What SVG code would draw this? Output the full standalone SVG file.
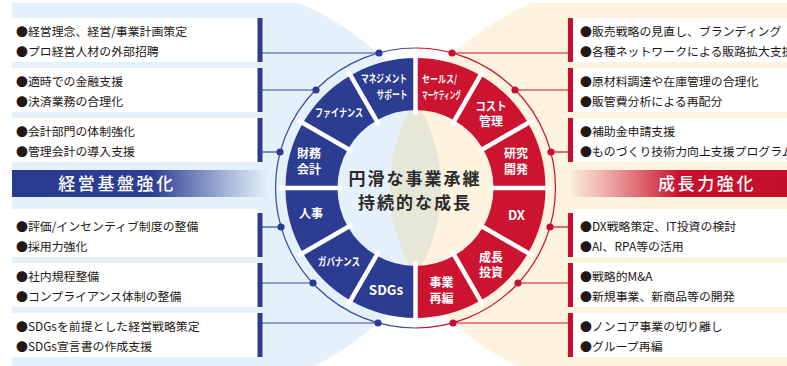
<svg xmlns="http://www.w3.org/2000/svg" xmlns:xlink="http://www.w3.org/1999/xlink" width="787" height="366" viewBox="0 0 787 366">
<defs>
<style>
.box{fill:#ffffff}
.bb{fill:#2c3b8f}
.rb{fill:#c8102e}
.bl{stroke:#3a4a9a;stroke-width:1.2;fill:none}
.rl{stroke:#c8102e;stroke-width:1.2;fill:none}
.bd{fill:#2c3b8f}
.rd{fill:#c8102e}
.t{font-family:"Noto Sans CJK JP","Noto Sans",sans-serif;font-size:11.9px;fill:#231815}
.lbl{font-family:"Noto Sans CJK JP","Noto Sans",sans-serif;font-weight:700;fill:#ffffff;text-anchor:middle}
.band{font-family:"Noto Sans CJK JP","Noto Sans",sans-serif;font-weight:500;font-size:17px;letter-spacing:2.6px;fill:#ffffff;text-anchor:middle}
.ctr{font-family:"Noto Sans CJK JP","Noto Sans",sans-serif;font-weight:700;font-size:17px;letter-spacing:2px;fill:#2a2a2a;text-anchor:middle}
.segB{fill:#2c3c91}
.segR{fill:#cc1430}
</style>
<clipPath id="clipPanel"><rect x="12" y="3" width="775" height="363"/></clipPath>
<clipPath id="clipL"><ellipse cx="160" cy="188" rx="281" ry="213"/></clipPath>
<linearGradient id="gB" gradientUnits="userSpaceOnUse" x1="12" y1="0" x2="268" y2="0">
<stop offset="0" stop-color="#2a3a8f" stop-opacity="1"/>
<stop offset="0.55" stop-color="#2e3e94" stop-opacity="1"/>
<stop offset="1" stop-color="#3a4c9e" stop-opacity="0"/>
</linearGradient>
<linearGradient id="gR" gradientUnits="userSpaceOnUse" x1="572" y1="0" x2="787" y2="0">
<stop offset="0" stop-color="#d83048" stop-opacity="0.05"/>
<stop offset="0.5" stop-color="#c8102e" stop-opacity="1"/>
<stop offset="1" stop-color="#c40f2c" stop-opacity="1"/>
</linearGradient>
<path id="seg" d="M415.5,58 A130,130 0 0 1 480.5,75.42 L454.5,120.45 A78,78 0 0 0 415.5,110 Z"/>
<line id="gap" x1="415.5" y1="115" x2="415.5" y2="52" stroke="#ffffff" stroke-width="4.5"/>
</defs>

<g id="background" clip-path="url(#clipPanel)">
<rect x="12" y="3" width="150" height="363" fill="#e4f1fb"/>
<ellipse cx="160" cy="188" rx="281" ry="213" fill="#e4f1fb"/>
<rect x="671" y="3" width="116" height="363" fill="#fdf3df"/>
<ellipse cx="671" cy="188" rx="281" ry="213" fill="#fdf3df"/>
<ellipse cx="671" cy="188" rx="281" ry="213" fill="#e6e7d7" clip-path="url(#clipL)"/>
</g>

<g id="band-left">
<rect x="12" y="170" width="258" height="27" fill="url(#gB)"/>
<text class="band" x="117" y="190">経営基盤強化</text>
</g>
<g id="band-right">
<rect x="572" y="170" width="215" height="27" fill="url(#gR)"/>
<text class="band" x="707" y="190">成長力強化</text>
</g>

<g id="box-l1"><rect class="box" x="12" y="18" width="246" height="44"/><rect class="bb" x="257.5" y="18" width="5" height="44"/>
<text class="t" x="16" y="36">●経営理念、経営/事業計画策定</text><text class="t" x="16" y="56">●プロ経営人材の外部招聘</text></g>
<g id="box-l2"><rect class="box" x="12" y="68" width="246" height="44"/><rect class="bb" x="257.5" y="68" width="5" height="44"/>
<text class="t" x="16" y="86">●適時での金融支援</text><text class="t" x="16" y="106">●決済業務の合理化</text></g>
<g id="box-l3"><rect class="box" x="12" y="118" width="246" height="44"/><rect class="bb" x="257.5" y="118" width="5" height="44"/>
<text class="t" x="16" y="136">●会計部門の体制強化</text><text class="t" x="16" y="156">●管理会計の導入支援</text></g>
<g id="box-l4"><rect class="box" x="12" y="209" width="246" height="48"/><rect class="bb" x="257.5" y="213" width="5" height="44"/>
<text class="t" x="16" y="231">●評価/インセンティブ制度の整備</text><text class="t" x="16" y="251">●採用力強化</text></g>
<g id="box-l5"><rect class="box" x="12" y="263" width="246" height="44"/><rect class="bb" x="257.5" y="263" width="5" height="44"/>
<text class="t" x="16" y="281">●社内規程整備</text><text class="t" x="16" y="301">●コンプライアンス体制の整備</text></g>
<g id="box-l6"><rect class="box" x="12" y="313" width="246" height="44"/><rect class="bb" x="257.5" y="313" width="5" height="44"/>
<text class="t" x="16" y="331">●SDGsを前提とした経営戦略策定</text><text class="t" x="16" y="351">●SDGs宣言書の作成支援</text></g>

<g id="box-r1"><rect class="box" x="573" y="18" width="214" height="44"/><rect class="rb" x="568" y="18" width="5" height="44"/>
<text class="t" x="580" y="36">●販売戦略の見直し、ブランディング</text><text class="t" x="580" y="56">●各種ネットワークによる販路拡大支援</text></g>
<g id="box-r2"><rect class="box" x="573" y="68" width="214" height="44"/><rect class="rb" x="568" y="68" width="5" height="44"/>
<text class="t" x="580" y="86">●原材料調達や在庫管理の合理化</text><text class="t" x="580" y="106">●販管費分析による再配分</text></g>
<g id="box-r3"><rect class="box" x="573" y="118" width="214" height="44"/><rect class="rb" x="568" y="118" width="5" height="44"/>
<text class="t" x="580" y="136">●補助金申請支援</text><text class="t" x="580" y="156">●ものづくり技術力向上支援プログラム</text></g>
<g id="box-r4"><rect class="box" x="573" y="209" width="214" height="48"/><rect class="rb" x="568" y="213" width="5" height="44"/>
<text class="t" x="580" y="231">●DX戦略策定、IT投資の検討</text><text class="t" x="580" y="251">●AI、RPA等の活用</text></g>
<g id="box-r5"><rect class="box" x="573" y="263" width="214" height="44"/><rect class="rb" x="568" y="263" width="5" height="44"/>
<text class="t" x="580" y="281">●戦略的M&amp;A</text><text class="t" x="580" y="301">●新規事業、新商品等の開発</text></g>
<g id="box-r6"><rect class="box" x="573" y="313" width="214" height="44"/><rect class="rb" x="568" y="313" width="5" height="44"/>
<text class="t" x="580" y="331">●ノンコア事業の切り離し</text><text class="t" x="580" y="351">●グループ再編</text></g>

<g id="ring">
<path d="M415.5,48 A140,140 0 0 0 415.5,328" class="bl" stroke-width="1.5"/>
<path d="M415.5,48 A140,140 0 0 1 415.5,328" class="rl" stroke-width="1.5"/>
</g>

<g id="seg-management"><use xlink:href="#seg" href="#seg" class="segB" transform="rotate(-30 415.5 188)"/>
<text class="lbl" font-size="11" x="384" y="83" textLength="46" lengthAdjust="spacingAndGlyphs">マネジメント</text>
<text class="lbl" font-size="11" x="392" y="98.5" textLength="31" lengthAdjust="spacingAndGlyphs">サポート</text></g>
<g id="seg-finance"><use xlink:href="#seg" href="#seg" class="segB" transform="rotate(-60 415.5 188)"/>
<text class="lbl" font-size="11" x="339" y="117" textLength="48" lengthAdjust="spacingAndGlyphs">ファイナンス</text></g>
<g id="seg-accounting"><use xlink:href="#seg" href="#seg" class="segB" transform="rotate(-90 415.5 188)"/>
<text class="lbl" font-size="12" x="309" y="158">財務</text><text class="lbl" font-size="12" x="309" y="173.5">会計</text></g>
<g id="seg-hr"><use xlink:href="#seg" href="#seg" class="segB" transform="rotate(-120 415.5 188)"/>
<text class="lbl" font-size="12" x="311" y="217.5">人事</text></g>
<g id="seg-governance"><use xlink:href="#seg" href="#seg" class="segB" transform="rotate(-150 415.5 188)"/>
<text class="lbl" font-size="11" x="339" y="266" textLength="42" lengthAdjust="spacingAndGlyphs">ガバナンス</text></g>
<g id="seg-sdgs"><use xlink:href="#seg" href="#seg" class="segB" transform="rotate(-180 415.5 188)"/>
<text class="lbl" font-size="13.5" font-family="'Noto Sans','Noto Sans CJK JP',sans-serif" font-weight="500" x="386" y="294.5">SDGs</text></g>

<g id="seg-sales"><use xlink:href="#seg" href="#seg" class="segR"/>
<text class="lbl" font-size="10.5" x="422" y="83" style="text-anchor:start" textLength="35" lengthAdjust="spacingAndGlyphs">セールス/</text>
<text class="lbl" font-size="10" x="422" y="98.5" style="text-anchor:start" textLength="39" lengthAdjust="spacingAndGlyphs">マーケティング</text></g>
<g id="seg-cost"><use xlink:href="#seg" href="#seg" class="segR" transform="rotate(30 415.5 188)"/>
<text class="lbl" font-size="12" x="491" y="110.5" textLength="31" lengthAdjust="spacingAndGlyphs">コスト</text>
<text class="lbl" font-size="12" x="491" y="126">管理</text></g>
<g id="seg-rd"><use xlink:href="#seg" href="#seg" class="segR" transform="rotate(60 415.5 188)"/>
<text class="lbl" font-size="12" x="516" y="158">研究</text><text class="lbl" font-size="12" x="516" y="173.5">開発</text></g>
<g id="seg-dx"><use xlink:href="#seg" href="#seg" class="segR" transform="rotate(90 415.5 188)"/>
<text class="lbl" font-size="13" font-family="'Noto Sans','Noto Sans CJK JP',sans-serif" font-weight="500" x="516.5" y="219.5">DX</text></g>
<g id="seg-growth"><use xlink:href="#seg" href="#seg" class="segR" transform="rotate(120 415.5 188)"/>
<text class="lbl" font-size="12" x="491" y="261.5">成長</text><text class="lbl" font-size="12" x="491" y="277">投資</text></g>
<g id="seg-restructure"><use xlink:href="#seg" href="#seg" class="segR" transform="rotate(150 415.5 188)"/>
<text class="lbl" font-size="12" x="441.5" y="286.5">事業</text><text class="lbl" font-size="12" x="441.5" y="302.5">再編</text></g>

<g id="gaps">
<use xlink:href="#gap" href="#gap"/>
<use xlink:href="#gap" href="#gap" transform="rotate(30 415.5 188)"/>
<use xlink:href="#gap" href="#gap" transform="rotate(60 415.5 188)"/>
<use xlink:href="#gap" href="#gap" transform="rotate(90 415.5 188)"/>
<use xlink:href="#gap" href="#gap" transform="rotate(120 415.5 188)"/>
<use xlink:href="#gap" href="#gap" transform="rotate(150 415.5 188)"/>
<use xlink:href="#gap" href="#gap" transform="rotate(180 415.5 188)"/>
<use xlink:href="#gap" href="#gap" transform="rotate(210 415.5 188)"/>
<use xlink:href="#gap" href="#gap" transform="rotate(240 415.5 188)"/>
<use xlink:href="#gap" href="#gap" transform="rotate(270 415.5 188)"/>
<use xlink:href="#gap" href="#gap" transform="rotate(300 415.5 188)"/>
<use xlink:href="#gap" href="#gap" transform="rotate(330 415.5 188)"/>
</g>

<g id="center">
<text class="ctr" x="415" y="185">円滑な事業承継</text>
<text class="ctr" x="415" y="209">持続的な成長</text>
</g>

<g id="connectors">
<line class="bl" x1="262" y1="53" x2="379" y2="53"/>
<line class="bl" x1="262" y1="90" x2="316" y2="90"/>
<line class="bl" x1="262" y1="152" x2="280" y2="152"/>
<line class="bl" x1="262" y1="227" x2="281" y2="227"/>
<line class="bl" x1="262" y1="283" x2="313" y2="283"/>
<line class="bl" x1="262" y1="323" x2="378" y2="323"/>
<circle class="bd" cx="379" cy="53" r="3.6"/>
<circle class="bd" cx="316" cy="90" r="3.6"/>
<circle class="bd" cx="280" cy="152" r="3.6"/>
<circle class="bd" cx="281" cy="227" r="3.6"/>
<circle class="bd" cx="313" cy="283" r="3.6"/>
<circle class="bd" cx="378" cy="323" r="3.6"/>
<line class="rl" x1="452" y1="53" x2="569" y2="53"/>
<line class="rl" x1="515" y1="90" x2="569" y2="90"/>
<line class="rl" x1="551" y1="152" x2="569" y2="152"/>
<line class="rl" x1="550" y1="227" x2="569" y2="227"/>
<line class="rl" x1="518" y1="283" x2="569" y2="283"/>
<line class="rl" x1="453" y1="323" x2="569" y2="323"/>
<circle class="rd" cx="452" cy="53" r="3.6"/>
<circle class="rd" cx="515" cy="90" r="3.6"/>
<circle class="rd" cx="551" cy="152" r="3.6"/>
<circle class="rd" cx="550" cy="227" r="3.6"/>
<circle class="rd" cx="518" cy="283" r="3.6"/>
<circle class="rd" cx="453" cy="323" r="3.6"/>
</g>
</svg>
